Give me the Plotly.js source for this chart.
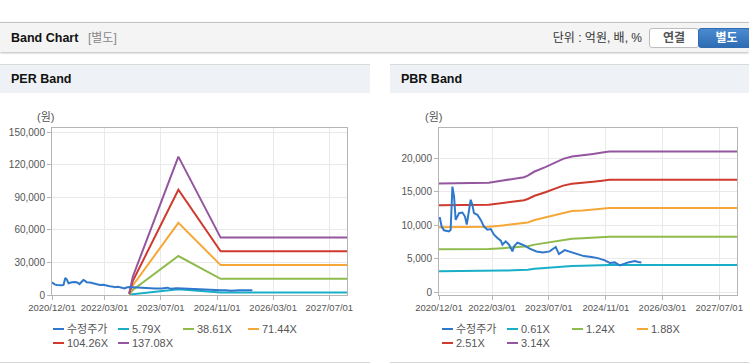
<!DOCTYPE html>
<html><head><meta charset="utf-8">
<script src="https://cdn.plot.ly/plotly-3.0.1.min.js"></script>
<style>
body{margin:0;width:749px;height:364px;overflow:hidden;background:#fff;font-family:"Liberation Sans",Arial,"Noto Sans CJK KR",sans-serif;position:relative}
.abs{position:absolute;white-space:nowrap}
#hdr{left:0;top:22px;width:749px;height:29px;background:#f4f4f4;border-top:1px solid #c4c4c4;box-shadow:0 1px 2px rgba(0,0,0,0.28)}
.ttl{font-weight:bold;font-size:12.5px;color:#111;line-height:16px}
.panel{top:64px;height:297px;border-top:1px solid #dadada;border-bottom:1px solid #d6d6d6;background:#fff}
.phead{position:absolute;left:0;top:0;right:0;height:28px;background:#eef1f6}
.btn{top:28px;height:18px;line-height:18px;font-size:12px;font-weight:bold;text-align:center;border-radius:3px}
.unit{font-size:12px;color:#333;line-height:16px}
.won{font-size:11px;color:#555;line-height:12px}
.leg{font-size:11px;color:#555;line-height:13px}
.leg span.sw{display:inline-block;width:11px;height:2px;vertical-align:middle;margin-right:3px;position:relative;top:-1px}
</style></head>
<body>
<div id="hdr" class="abs"></div>
<div class="abs ttl" style="left:11px;top:30px">Band Chart</div>
<div class="abs" style="left:88px;top:30px;font-size:12px;color:#888;line-height:16px">[별도]</div>
<div class="abs unit" style="right:107px;top:30px">단위 : 억원, 배, %</div>
<div class="abs btn" style="left:649px;width:48px;background:#fff;border:1px solid #bdbdbd;color:#555">연결</div>
<div class="abs btn" style="left:698px;width:55px;background:linear-gradient(#4a8bd0,#2f6cb3);border:1px solid #2f6cb3;color:#fff;border-radius:3px 0 0 3px">별도</div>

<div class="abs panel" style="left:0;width:370px"><div class="phead"></div></div>
<div class="abs panel" style="left:390px;width:359px"><div class="phead"></div></div>
<div class="abs ttl" style="left:11px;top:71px">PER Band</div>
<div class="abs ttl" style="left:401px;top:71px">PBR Band</div>

<div id="per" class="abs" style="left:0;top:92px;width:370px;height:268px"></div>
<div id="pbr" class="abs" style="left:390px;top:92px;width:359px;height:268px"></div>
<div class="abs won" style="left:37px;top:111px">(원)</div>
<div class="abs won" style="left:425px;top:111px">(원)</div>
<div id="legPer"></div>
<div id="legPbr"></div>

<script>
// ---- shared price series (수정주가) ----
const priceDates = ['2020-12-01','2020-12-07','2020-12-24','2021-01-13','2021-02-25','2021-03-11','2021-03-26','2021-04-09','2021-04-23','2021-05-08','2021-05-22','2021-06-20','2021-07-12','2021-07-27','2021-08-16','2021-08-30','2021-09-14','2021-09-27','2021-10-27','2021-11-24','2021-12-22','2022-01-20','2022-02-18','2022-03-18','2022-04-16','2022-05-15','2022-05-29','2022-06-26','2022-07-25','2022-08-23','2022-09-06','2022-10-05','2022-11-02','2022-12-01','2023-01-18','2023-03-17','2023-05-11','2023-07-08','2023-08-29','2023-09-26','2023-11-14','2024-01-10','2024-03-07','2024-04-26','2024-07-01','2024-08-24','2024-10-23','2024-12-05','2025-01-17','2025-03-01','2025-05-11','2025-07-08','2025-08-05','2025-09-02'];
const priceVals = [10900,11200,9800,9250,9080,9330,15770,14300,10800,11300,11800,11900,11300,10100,12300,13800,13000,11800,11550,10800,9800,9330,9430,8600,8100,7700,7100,7600,7100,6100,6850,7400,7200,7000,6500,6100,5950,6100,6750,5700,6300,5950,5610,5400,5250,5100,4760,4370,4460,4000,4460,4650,4520,4460];

// ---- PER band ----
const perDates = ['2022-10-01','2022-11-01','2023-12-01','2024-12-01','2027-12-01'];
const per579  = [58, 712, 5390, 2235, 2235];
const per3861 = [386, 4749, 35946, 14903, 14903];
const per7144 = [714, 8787, 66511, 27576, 27576];
const per10426= [1043, 12824, 97066, 40244, 40244];
const per13708= [1371, 16861, 127621, 52913, 52913];
const perNames = ['수정주가','5.79X','38.61X','71.44X','104.26X','137.08X'];

// ---- PBR band ----
const pbrDates = ['2020-12-01','2022-01-01','2022-02-01','2022-06-01','2022-09-01','2022-12-01','2023-01-01','2023-03-01','2023-06-01','2023-08-15','2023-11-01','2024-01-15','2024-04-15','2024-07-15','2024-10-01','2024-12-01','2027-12-01'];
const pbr061 = [3151,3151,3172,3238,3287,3335,3382,3499,3625,3742,3866,3932,3961,4010,4047,4076,4076];
const pbr124 = [6406,6406,6448,6583,6682,6780,6876,7113,7369,7606,7859,7993,8053,8151,8226,8286,8286];
const pbr188 = [9712,9712,9776,9981,10131,10280,10425,10784,11173,11532,11915,12118,12209,12357,12472,12562,12562];
const pbr251 = [12967,12967,13052,13326,13526,13725,13918,14397,14917,15396,15908,16179,16300,16498,16651,16772,16772];
const pbr314 = [16221,16221,16328,16670,16921,17170,17411,18011,18661,19261,19901,20240,20391,20639,20831,20981,20981];
const pbrNames = ['수정주가','0.61X','1.24X','1.88X','2.51X','3.14X'];

const colors = ['#2f78cc','#19afc7','#8fbb4d','#f5a838','#cf3a2e','#94569f'];
const xTicks = ['2020-12-01','2022-03-01','2023-07-01','2024-11-01','2026-03-01','2027-07-01'];
const xTickText = ['2020/12/01','2022/03/01','2023/07/01','2024/11/01','2026/03/01','2027/07/01'];

function mk(names, dates, bands){
  const tr = bands.map((b,i)=>({x:dates,y:b,type:'scatter',mode:'lines',name:names[i+1],
    line:{color:colors[i+1],width:2},hoverinfo:'skip'}));
  tr.push({x:priceDates,y:priceVals,type:'scatter',mode:'lines',name:names[0],
    line:{color:colors[0],width:2},hoverinfo:'skip'});
  return tr;
}
function lay(l,r,yr,ytv){
  const ax = {showline:true,mirror:true,linecolor:'#b5b5b5',linewidth:1,gridcolor:'#e9e9e9',
    ticks:'outside',ticklen:4,tickcolor:'#b5b5b5',tickfont:{family:'Liberation Sans, Arial',size:10,color:'#555'},zeroline:false};
  return {
    width:null, margin:{l:l,r:r,t:36,b:65}, showlegend:false,
    paper_bgcolor:'rgba(0,0,0,0)', plot_bgcolor:'#fff',
    xaxis:Object.assign({},ax,{type:'date',range:['2020-12-01','2027-12-01'],tickvals:xTicks,ticktext:xTickText,
      tickfont:{family:'Liberation Sans, Arial',size:9.5,color:'#555'}}),
    yaxis:Object.assign({},ax,{range:yr,tickvals:ytv,tickformat:',d'})
  };
}
Plotly.newPlot('per', mk(perNames, perDates, [per579,per3861,per7144,per10426,per13708]),
  Object.assign(lay(52,23,[0,154000],[0,30000,60000,90000,120000,150000]),{width:370,height:268}),
  {staticPlot:true,displayModeBar:false});
Plotly.newPlot('pbr', mk(pbrNames, pbrDates, [pbr061,pbr124,pbr188,pbr251,pbr314]),
  Object.assign(lay(49,12,[-400,24500],[0,5000,10000,15000,20000]),{width:359,height:268}),
  {staticPlot:true,displayModeBar:false});

function legend(id, names, x0){
  const el = document.getElementById(id);
  names.forEach((n,i)=>{
    const d = document.createElement('div');
    d.className='abs leg';
    d.style.left = (x0 + (i%4)*65) + 'px';
    d.style.top = (323 + Math.floor(i/4)*13.5) + 'px';
    d.innerHTML = '<span class="sw" style="background:'+colors[i]+'"></span>'+n;
    el.appendChild(d);
  });
}
legend('legPer', perNames, 53);
legend('legPbr', pbrNames, 442);
</script>
</body></html>
